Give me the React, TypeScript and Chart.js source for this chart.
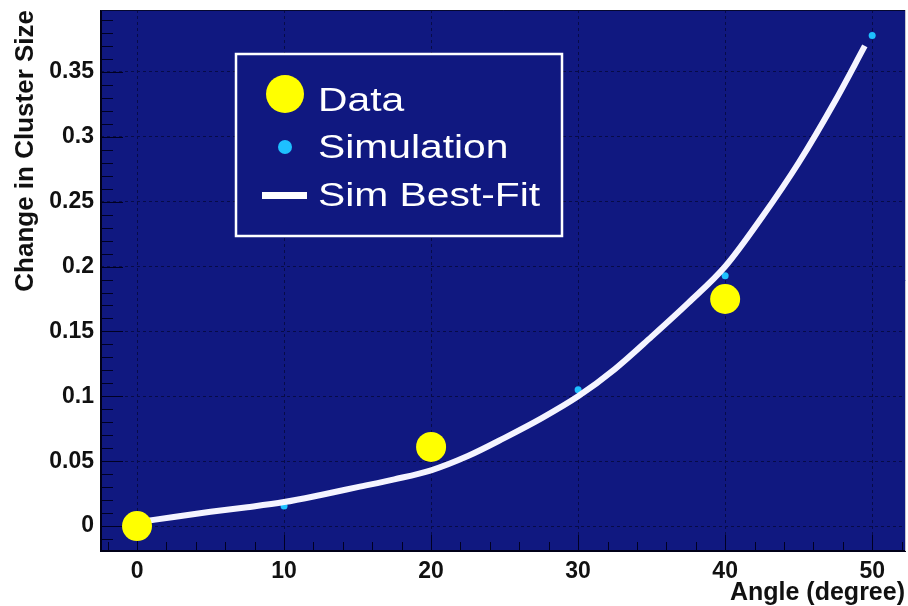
import React, { useEffect, useRef } from 'react';
import { Chart, registerables } from 'chart.js';

Chart.register(...registerables);

// ---- data ----
const dataAngles = [0, 20, 40];
const dataValues = [0.0, 0.061, 0.175];

const simAngles = [0, 10, 30, 40, 50];
const simValues = [0.0, 0.0155, 0.105, 0.193, 0.378];

const fitAngles = [0, 2.5, 5, 7.5, 10, 12.5, 15, 17.5, 20, 22.5, 25, 27.5, 30, 32.5, 35, 37.5, 40, 42.5, 45, 47.5, 49.5];
const fitValues = [0.003, 0.007, 0.011, 0.0145, 0.0185, 0.024, 0.030, 0.036, 0.043, 0.054, 0.068, 0.083, 0.100, 0.121, 0.146, 0.172, 0.200, 0.238, 0.280, 0.328, 0.370];

const xTicks = [0, 10, 20, 30, 40, 50];
const yTicks = [0, 0.05, 0.1, 0.15, 0.2, 0.25, 0.3, 0.35];
const legendLabels = ['Data', 'Simulation', 'Sim Best-Fit'];
const xTitle = 'Angle (degree)';
const yTitle = 'Change in Cluster Size';

const NAVY = '#101880';
const GRID = '#070b48';

const decorPlugin = {
  id: 'decor',
  beforeDraw(chart: any) {
    const { ctx, chartArea: a, width, height } = chart;
    ctx.save();
    ctx.fillStyle = '#ffffff';
    ctx.fillRect(0, 0, width, height);
    ctx.fillStyle = NAVY;
    ctx.fillRect(a.left, a.top, a.right - a.left, a.bottom - a.top);
    ctx.restore();
  },
  beforeDatasetsDraw(chart: any) {
    const { ctx, chartArea: a, scales } = chart;
    const xs = scales.x;
    const ys = scales.y;
    ctx.save();
    ctx.strokeStyle = '#000022';
    ctx.lineWidth = 1;
    for (let i = 0; i < yTicks.length; i++) {
      for (let k = -4; k <= 4; k++) {
        if (k === 0) continue;
        if (k < 0 && i > 0) continue;
        const v = yTicks[i] + k * 0.01;
        const py = ys.getPixelForValue(v);
        if (py < a.top || py > a.bottom) continue;
        ctx.beginPath();
        ctx.moveTo(a.left, Math.round(py) + 0.5);
        ctx.lineTo(a.left + 12, Math.round(py) + 0.5);
        ctx.stroke();
      }
      const py = ys.getPixelForValue(yTicks[i]);
      ctx.beginPath();
      ctx.moveTo(a.left, Math.round(py) + 0.5);
      ctx.lineTo(a.left + 22, Math.round(py) + 0.5);
      ctx.stroke();
    }
    for (let i = 0; i < xTicks.length; i++) {
      for (let k = -4; k <= 4; k++) {
        if (k === 0) continue;
        if (k < 0 && i > 0) continue;
        const v = xTicks[i] + k * 2;
        const px = xs.getPixelForValue(v);
        if (px < a.left || px > a.right) continue;
        ctx.beginPath();
        ctx.moveTo(Math.round(px) + 0.5, a.bottom);
        ctx.lineTo(Math.round(px) + 0.5, a.bottom - 9);
        ctx.stroke();
      }
      const px = xs.getPixelForValue(xTicks[i]);
      ctx.beginPath();
      ctx.moveTo(Math.round(px) + 0.5, a.bottom);
      ctx.lineTo(Math.round(px) + 0.5, a.bottom - 16);
      ctx.stroke();
    }
    ctx.strokeStyle = '#000018';
    ctx.lineWidth = 2;
    ctx.beginPath();
    ctx.moveTo(a.left, a.top);
    ctx.lineTo(a.left, a.bottom);
    ctx.lineTo(a.right, a.bottom);
    ctx.stroke();
    ctx.lineWidth = 1;
    ctx.strokeStyle = '#05082e';
    ctx.beginPath();
    ctx.moveTo(a.left, a.top + 0.5);
    ctx.lineTo(a.right, a.top + 0.5);
    ctx.stroke();
    ctx.strokeStyle = '#c8c8d0';
    ctx.beginPath();
    ctx.moveTo(a.right - 0.5, a.top);
    ctx.lineTo(a.right - 0.5, a.bottom);
    ctx.stroke();
    ctx.restore();
  },
  afterDraw(chart: any) {
    const { ctx } = chart;
    ctx.save();
    const bx = 236, by = 54, bw = 326, bh = 182;
    ctx.fillStyle = NAVY;
    ctx.fillRect(bx, by, bw, bh);
    ctx.strokeStyle = '#ffffff';
    ctx.lineWidth = 2.5;
    ctx.strokeRect(bx, by, bw, bh);
    ctx.fillStyle = '#ffff00';
    ctx.beginPath();
    ctx.arc(285, 94, 19, 0, Math.PI * 2);
    ctx.fill();
    ctx.fillStyle = '#1ec0ff';
    ctx.beginPath();
    ctx.arc(285, 147, 7, 0, Math.PI * 2);
    ctx.fill();
    ctx.fillStyle = '#ffffff';
    ctx.fillRect(262, 192, 45, 7);
    ctx.font = '34px "Liberation Sans", Arial, sans-serif';
    ctx.textAlign = 'left';
    ctx.textBaseline = 'alphabetic';
    const baselines = [111, 158, 206];
    legendLabels.forEach((t, i) => {
      ctx.save();
      ctx.translate(318, baselines[i]);
      ctx.scale(1.2, 1);
      ctx.fillText(t, 0, 0);
      ctx.restore();
    });
    ctx.fillStyle = '#111111';
    ctx.font = 'bold 25px "Liberation Sans", Arial, sans-serif';
    ctx.textAlign = 'right';
    ctx.textBaseline = 'alphabetic';
    ctx.fillText(xTitle, 905, 600);
    ctx.save();
    ctx.translate(33, 10);
    ctx.rotate(-Math.PI / 2);
    ctx.textAlign = 'right';
    ctx.font = 'bold 26px "Liberation Sans", Arial, sans-serif';
    ctx.fillText(yTitle, 0, 0);
    ctx.restore();
    ctx.restore();
  },
};

export default function App() {
  const canvasRef = useRef<HTMLCanvasElement | null>(null);

  useEffect(() => {
    const canvas = canvasRef.current;
    if (!canvas) return;
    const tickFont = { family: '"Liberation Sans", Arial, sans-serif', size: 23, weight: 'bold' as const };
    const chart = new Chart(canvas, {
      type: 'scatter',
      data: {
        datasets: [
          {
            label: legendLabels[0],
            data: dataAngles.map((x, i) => ({ x, y: dataValues[i] })),
            backgroundColor: '#ffff00',
            borderColor: '#ffff00',
            pointRadius: 15,
            pointBorderWidth: 0,
            order: 0,
          },
          {
            type: 'line',
            label: legendLabels[2],
            data: fitAngles.map((x, i) => ({ x, y: fitValues[i] })),
            borderColor: '#f4f4ff',
            borderWidth: 6,
            pointRadius: 0,
            cubicInterpolationMode: 'monotone',
            fill: false,
            order: 1,
          } as any,
          {
            label: legendLabels[1],
            data: simAngles.map((x, i) => ({ x, y: simValues[i] })),
            backgroundColor: '#1ec0ff',
            borderColor: '#1ec0ff',
            pointRadius: 3.5,
            pointBorderWidth: 0,
            order: 2,
          },
        ],
      },
      options: {
        animation: false,
        responsive: false,
        maintainAspectRatio: false,
        layout: { autoPadding: false, padding: { top: 10, right: 2, left: 0, bottom: 0 } },
        plugins: { legend: { display: false }, tooltip: { enabled: false }, title: { display: false } },
        scales: {
          x: {
            type: 'linear',
            min: -2.45,
            max: 52.3,
            afterBuildTicks: (s: any) => { s.ticks = xTicks.map((v) => ({ value: v })); },
            afterFit: (s: any) => {
              s.height = 55;
              s.paddingLeft = 0; s.paddingRight = 0; s.paddingTop = 0; s.paddingBottom = 0;
            },
            ticks: { color: '#111111', font: tickFont, padding: 7, maxRotation: 0, callback: (v: any) => String(v) },
            grid: { color: GRID, lineWidth: 1, drawTicks: false },
            border: { display: false, dash: [3, 3] },
          },
          y: {
            type: 'linear',
            min: -0.0192,
            max: 0.3977,
            afterBuildTicks: (s: any) => { s.ticks = yTicks.map((v) => ({ value: v })); },
            afterFit: (s: any) => {
              s.width = 101;
              s.paddingLeft = 0; s.paddingRight = 0; s.paddingTop = 0; s.paddingBottom = 0;
            },
            ticks: {
              color: '#111111',
              font: tickFont,
              padding: 7,
              callback: (v: any) => String(Math.round(Number(v) * 100) / 100),
            },
            grid: { color: GRID, lineWidth: 1, drawTicks: false },
            border: { display: false, dash: [3, 3] },
          },
        },
      },
      plugins: [decorPlugin],
    } as any);
    return () => chart.destroy();
  }, []);

  return (
    <div style={{ position: 'fixed', left: 0, top: 0, width: 908, height: 606, background: '#fff' }}>
      <canvas ref={canvasRef} width={908} height={606} style={{ width: 908, height: 606, display: 'block' }} />
    </div>
  );
}
